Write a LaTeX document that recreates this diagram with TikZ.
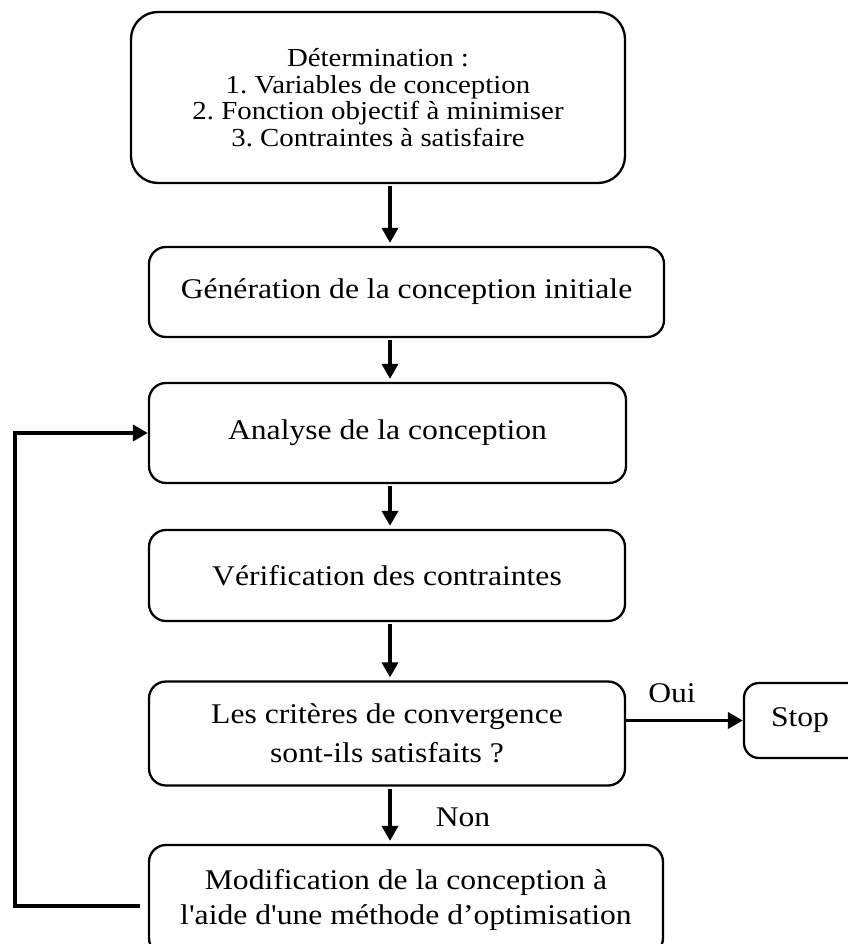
\documentclass[tikz,border=0pt]{standalone}
\usepackage{fontspec}
\setmainfont{Liberation Serif}[FakeStretch=1.11,Ligatures=TeXOff]
\usetikzlibrary{arrows.meta}
\frenchspacing
\begin{document}
\begin{tikzpicture}[x=1pt,y=-1pt,
  box/.style={draw, line width=2.3pt, rounded corners=17pt, align=center, inner sep=0pt,
    font=\fontsize{28.5}{38.5}\selectfont},
  lbl/.style={inner sep=0pt, font=\fontsize{28.5}{34}\selectfont},
  arr/.style={line width=3.6pt, -{Triangle[length=15pt,width=16pt]}, shorten >=3pt, shorten <=2pt},
  fb/.style={line width=3.8pt, line join=miter, -{Triangle[length=15pt,width=16pt]}}]
\useasboundingbox (0,0) rectangle (847,944);
\node[box, minimum width=494pt, minimum height=171pt, rounded corners=27pt,
  font=\fontsize{26}{26.5}\selectfont] (b1) at (378,97.5)
  {Détermination :\\1. Variables de conception\\2. Fonction objectif à minimiser\\3. Contraintes à satisfaire};
\node[box, minimum width=515pt, minimum height=90pt] (b2) at (406.5,292) {Génération de la conception initiale};
\node[box, minimum width=477pt, minimum height=100pt] (b3) at (387.5,433) {Analyse de la conception};
\node[box, minimum width=476pt, minimum height=91pt] (b4) at (387,575.5) {Vérification des contraintes};
\node[box, minimum width=476pt, minimum height=104pt] (b5) at (387,733.5) {Les critères de convergence\\sont-ils satisfaits ?};
\node[box, minimum width=130pt, minimum height=75pt, rounded corners=15pt] (stop) at (809,720.5) {\kern-18pt Stop};
\node[box, minimum width=514pt, minimum height=110pt, font=\fontsize{28.5}{35}\selectfont] (b6) at (406,900)
  {Modification de la conception à\\l'aide d'une méthode d’optimisation};
\node[lbl] (oui) at (672,693) {Oui};
\node[lbl] (non) at (463,817) {Non};
\coordinate (ax) at (390,0);
\draw[arr] (ax |- b1.south) -- (ax |- b2.north);
\draw[arr] (ax |- b2.south) -- (ax |- b3.north);
\draw[arr] (ax |- b3.south) -- (ax |- b4.north);
\draw[arr] (ax |- b4.south) -- (ax |- b5.north);
\draw[arr] (ax |- b5.south) -- (ax |- b6.north);
\draw[fb] (stop.west -| b5.east) -- (stop.west);
\coordinate (fbs) at (140,906);
\coordinate (fbl) at (15,906);
\draw[fb] (fbs) -- (fbl) |- (b3.west);
\end{tikzpicture}
\end{document}
